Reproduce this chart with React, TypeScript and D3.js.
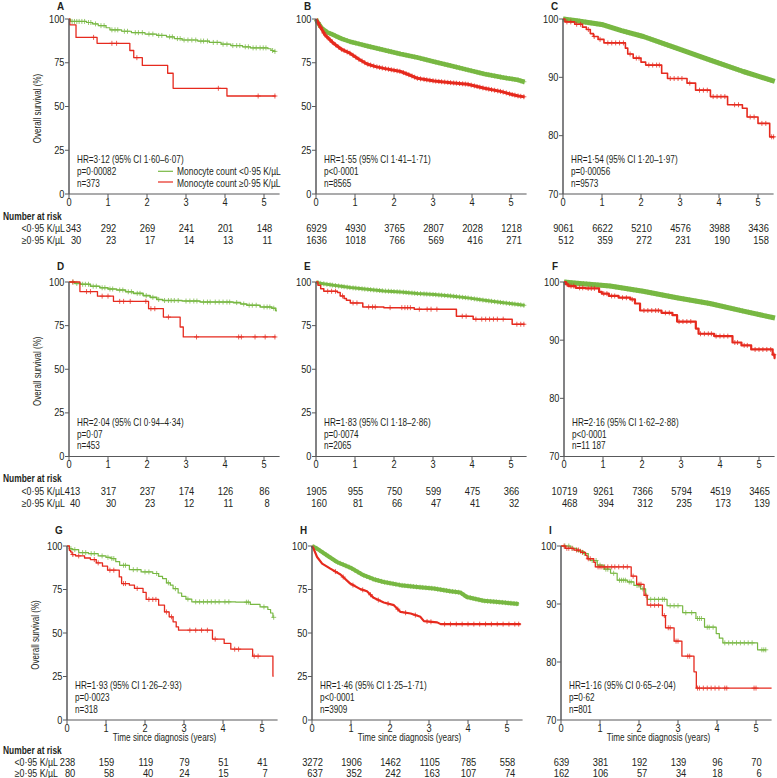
import React from "react";
import * as d3 from "d3";

type Pt = [number, number];

// ---------- text data ----------
const panelLetters = ["A", "B", "C", "D", "E", "F", "G", "H", "I"];
const hrLines = [
  "HR=3·12 (95% CI 1·60–6·07)", "HR=1·55 (95% CI 1·41–1·71)", "HR=1·54 (95% CI 1·20–1·97)",
  "HR=2·04 (95% CI 0·94–4·34)", "HR=1·83 (95% CI 1·18–2·86)", "HR=2·16 (95% CI 1·62–2·88)",
  "HR=1·93 (95% CI 1·26–2·93)", "HR=1·46 (95% CI 1·25–1·71)", "HR=1·16 (95% CI 0·65–2·04)",
];
const pLines = ["p=0·00082", "p<0·0001", "p=0·00056", "p=0·07", "p=0·0074", "p<0·0001", "p=0·0023", "p<0·0001", "p=0·62"];
const nLines = ["n=373", "n=8565", "n=9573", "n=453", "n=2065", "n=11 187", "n=318", "n=3909", "n=801"];

const riskLow: number[][] = [
  [343, 292, 269, 241, 201, 148],
  [6929, 4930, 3765, 2807, 2028, 1218],
  [9061, 6622, 5210, 4576, 3988, 3436],
  [413, 317, 237, 174, 126, 86],
  [1905, 955, 750, 599, 475, 366],
  [10719, 9261, 7366, 5794, 4519, 3465],
  [238, 159, 119, 79, 51, 41],
  [3272, 1906, 1462, 1105, 785, 558],
  [639, 381, 192, 139, 96, 70],
];
const riskHigh: number[][] = [
  [30, 23, 17, 14, 13, 11],
  [1636, 1018, 766, 569, 416, 271],
  [512, 359, 272, 231, 190, 158],
  [40, 30, 23, 12, 11, 8],
  [160, 81, 66, 47, 41, 32],
  [468, 394, 312, 235, 173, 139],
  [80, 58, 40, 24, 15, 7],
  [637, 352, 242, 163, 107, 74],
  [162, 106, 57, 34, 18, 6],
];

const timeTicks = [0, 1, 2, 3, 4, 5];
const yTicksFull = [0, 25, 50, 75, 100];
const yTicksZoom = [70, 80, 90, 100];
const zoomPanels = [false, false, true, false, false, true, false, false, true];

const legendLow = "Monocyte count <0·95 K/µL";
const legendHigh = "Monocyte count ≥0·95 K/µL";
const rowLabelLow = "<0·95 K/µL";
const rowLabelHigh = "≥0·95 K/µL";
const yTitle = "Overall survival (%)";
const xTitle = "Time since diagnosis (years)";
const riskTitle = "Number at risk";

// ---------- survival series (time in years, survival %) ----------
const aGreen: Pt[] = [[0, 100], [0.04, 98.6], [0.45, 98], [0.6, 97.2], [0.75, 96.2], [0.95, 95], [1.05, 93.8], [1.35, 93], [1.6, 92.2], [1.95, 91.4], [2.25, 90.6], [2.5, 89.8], [2.7, 88.8], [2.9, 88], [3.3, 87.4], [3.6, 86.6], [3.9, 85.6], [4.15, 84.8], [4.45, 84.1], [4.65, 83.5], [5.1, 83], [5.18, 82], [5.24, 81.5]];
const aRed: Pt[] = [[0, 100], [0.02, 96.7], [0.18, 89.5], [0.72, 86.1], [1.56, 82], [1.66, 77.9], [1.88, 73.5], [2.53, 69], [2.67, 60.4], [4.05, 56]];
const bGreen: Pt[] = [[0, 100], [0.03, 98.5], [0.15, 94.7], [0.3, 92.3], [0.45, 90.9], [0.65, 88.8], [0.88, 87], [1.1, 85.8], [1.31, 84.6], [1.74, 82.3], [2.17, 80], [2.6, 78], [3.03, 75.6], [3.46, 73.3], [3.89, 70.9], [4.32, 68.6], [4.76, 66.7], [5.19, 65.1], [5.35, 64]];
const bRed: Pt[] = [[0, 100], [0.05, 98], [0.1, 96], [0.23, 90.9], [0.45, 86.1], [0.66, 82.6], [0.88, 80.3], [1.1, 77], [1.31, 74.3], [1.53, 72.8], [1.74, 71.8], [2.17, 70], [2.4, 68], [2.6, 66.1], [3.03, 64.6], [3.46, 63.6], [3.89, 62.7], [4.32, 60.4], [4.76, 58.5], [5.0, 57], [5.19, 56], [5.35, 55.5]];
const cGreen: Pt[] = [[0, 100], [0.35, 99.7], [1.03, 99], [1.5, 98], [2.06, 97], [2.91, 95], [3.76, 93], [4.62, 91], [5.0, 90.2], [5.43, 89.3]];
const cRed: Pt[] = [[0, 100], [0.05, 99.5], [0.3, 99.1], [0.5, 98.6], [0.6, 98.2], [0.7, 97.5], [0.78, 97], [0.9, 96.5], [1.05, 95.9], [1.6, 95], [1.66, 94], [1.8, 93.3], [2.0, 92.6], [2.12, 92.1], [2.53, 90.7], [2.68, 89.8], [3.18, 89], [3.4, 87.8], [3.78, 86.7], [4.22, 85.3], [4.6, 84.7], [4.72, 83.2], [5.0, 82.1], [5.3, 79.8]];
const dGreen: Pt[] = [[0, 100], [0.15, 99.2], [0.3, 98.7], [0.55, 97.6], [0.79, 96.7], [1.0, 96], [1.22, 95.4], [1.45, 94.4], [1.65, 93.5], [1.9, 92.2], [2.08, 91.2], [2.25, 90], [2.4, 89.4], [2.9, 89.1], [3.36, 88.5], [4.21, 88.2], [4.4, 87.4], [4.56, 86.7], [4.9, 85.7], [5.2, 85], [5.3, 83.6]];
const dRed: Pt[] = [[0, 100], [0.28, 94.5], [0.73, 91.9], [1.14, 88.9], [2.04, 84.7], [2.42, 79.9], [2.85, 74.2], [2.93, 68.5]];
const eGreen: Pt[] = [[0, 100], [0.1, 99.3], [0.45, 98.1], [0.88, 96.8], [1.31, 95.8], [1.74, 94.9], [2.17, 94.3], [2.6, 93.4], [3.03, 92.8], [3.46, 92], [3.89, 90.9], [4.32, 89.5], [4.76, 88.2], [5.19, 87.1], [5.35, 86.6]];
const eRed: Pt[] = [[0, 100], [0.05, 98.1], [0.12, 96.2], [0.2, 94.7], [0.55, 94], [0.62, 92], [0.72, 90.5], [0.78, 89.5], [0.88, 88], [1.2, 85.7], [1.74, 85.3], [2.52, 84.4], [3.6, 80.4], [4.03, 78.7], [5.03, 75.8]];
const fGreen: Pt[] = [[0, 100], [0.33, 99.8], [1.18, 99.3], [2.03, 98.4], [2.89, 97.3], [3.74, 96.3], [4.6, 95], [5.41, 93.8]];
const fRed: Pt[] = [[0, 100], [0.05, 99.6], [0.11, 99.3], [0.3, 99], [0.55, 98.9], [0.9, 98.3], [0.97, 98], [1.15, 97.6], [1.4, 97.3], [1.7, 97], [1.82, 96.3], [1.95, 95.1], [2.5, 94.7], [2.78, 94.3], [2.9, 93.2], [3.38, 92], [3.45, 91.1], [3.85, 90.7], [4.32, 89.6], [4.55, 89.1], [4.8, 88.4], [5.35, 87.5], [5.4, 86.9]];
const gGreen: Pt[] = [[0, 100], [0.06, 98.5], [0.13, 97.9], [0.3, 96.2], [0.55, 95.6], [0.8, 94.3], [1.0, 93.5], [1.13, 92.8], [1.25, 91], [1.35, 88.9], [1.6, 86.4], [1.9, 85.1], [2.2, 84.2], [2.35, 82.5], [2.45, 81.3], [2.55, 78.8], [2.65, 77.5], [2.72, 75.5], [2.85, 73], [2.94, 71.1], [3.05, 69.5], [3.2, 67.9], [4.33, 67.7], [4.7, 66.4], [4.95, 65], [5.15, 63.5], [5.22, 61.5], [5.28, 59]];
const gRed: Pt[] = [[0, 100], [0.06, 97.5], [0.09, 96.6], [0.13, 95.1], [0.22, 94.3], [0.45, 93.1], [0.6, 92.2], [0.75, 90.3], [0.91, 88.4], [1.04, 86.1], [1.34, 82.2], [1.4, 78.4], [1.6, 77.5], [1.73, 75.6], [1.95, 73.3], [2.03, 69.3], [2.35, 66], [2.5, 62.1], [2.62, 59.3], [2.72, 56.4], [2.8, 53.5], [2.86, 51.6], [3.73, 46.5], [4.03, 44], [4.2, 40.7], [4.76, 36.7], [5.28, 25.2]];
const hGreen: Pt[] = [[0, 100], [0.13, 98.5], [0.38, 94.7], [0.64, 90.8], [0.98, 87.6], [1.32, 83.2], [1.58, 80.9], [1.84, 79.3], [2.27, 77.5], [2.69, 76.5], [3.12, 75.6], [3.55, 74], [3.8, 73.3], [3.97, 70.7], [4.4, 68.5], [4.91, 67.5], [5.3, 66.7]];
const hRed: Pt[] = [[0, 100], [0.04, 98.5], [0.13, 93.7], [0.26, 89.9], [0.47, 87], [0.73, 83.6], [0.98, 78.4], [1.24, 75.2], [1.41, 74], [1.58, 70.2], [1.84, 67.5], [2.1, 66], [2.27, 62.1], [2.53, 61.2], [2.78, 59.3], [2.87, 56.8], [3.21, 56.1], [3.3, 55.1], [5.35, 55.1]];
const iGreen: Pt[] = [[0, 100], [0.24, 99.6], [0.41, 99.1], [0.58, 98.7], [0.7, 97.8], [0.75, 97.5], [0.93, 96.7], [1.1, 96], [1.27, 95.3], [1.44, 94.1], [1.7, 93.8], [1.87, 93.2], [2.04, 92.6], [2.17, 91.5], [2.21, 90.8], [2.72, 89.7], [3.12, 88.5], [3.46, 87.5], [3.68, 86], [3.98, 84.9], [4.06, 84.1], [4.15, 83.3], [5.04, 82.1]];
const iRed: Pt[] = [[0, 100], [0.11, 99.6], [0.33, 99.3], [0.5, 98.9], [0.63, 98.4], [0.67, 97.8], [0.84, 97.2], [0.88, 96.4], [1.8, 94.8], [1.94, 93.4], [2.13, 91.5], [2.21, 89.8], [2.6, 88], [2.68, 85.9], [2.9, 83.6], [3.1, 81], [3.41, 78.3], [3.47, 75.5]];

const greenSeries = [aGreen, bGreen, cGreen, dGreen, eGreen, fGreen, gGreen, hGreen, iGreen];
const redSeries = [aRed, bRed, cRed, dRed, eRed, fRed, gRed, hRed, iRed];
const greenEnd = [5.3, 5.35, 5.43, 5.33, 5.35, 5.41, 5.3, 5.3, 5.26];
const redEnd = [5.3, 5.35, 5.42, 5.3, 5.35, 5.42, 5.3, 5.35, 5.4];
const greenSmooth = [false, true, true, false, true, true, false, true, false];
const redSmooth = [false, true, false, false, false, false, false, true, false];

// censoring marks (years)
const denseCensor = [0.05, 0.12, 0.2, 0.28, 0.36, 0.42, 0.5, 0.58, 0.66, 0.72, 0.8, 0.87, 0.95, 1.02, 1.1, 1.18, 1.25, 1.33, 1.4, 1.48, 1.56, 1.63, 1.7, 1.78, 1.86, 1.93, 2.0, 2.08, 2.15, 2.24, 2.31, 2.38, 2.46, 2.53, 2.6, 2.68, 2.77, 2.84, 2.92, 3.0, 3.07, 3.15, 3.22, 3.3, 3.38, 3.45, 3.53, 3.6, 3.68, 3.76, 3.83, 3.9, 3.98, 4.06, 4.13, 4.2, 4.28, 4.36, 4.43, 4.5, 4.58, 4.66, 4.73, 4.8, 4.88, 4.96, 5.03, 5.1, 5.18, 5.25, 5.33];
const aGreenCensor = [0.08, 0.14, 0.2, 0.26, 0.33, 0.4, 0.5, 0.56, 0.68, 0.82, 0.9, 1.1, 1.18, 1.25, 1.42, 1.5, 1.7, 1.78, 1.88, 2.05, 2.15, 2.3, 2.38, 2.58, 2.65, 2.78, 2.85, 2.95, 3.05, 3.15, 3.25, 3.38, 3.45, 3.55, 3.7, 3.8, 3.95, 4.05, 4.2, 4.3, 4.38, 4.52, 4.6, 4.72, 4.8, 4.9, 4.98, 5.05, 5.22, 5.28];
const aRedCensor = [0.63, 1.1, 1.22, 1.74, 3.83, 4.85, 5.28];
const cRedCensor = [0.1, 0.2, 0.35, 0.45, 0.65, 0.8, 0.95, 1.15, 1.25, 1.35, 1.45, 1.55, 1.72, 1.88, 1.95, 2.2, 2.3, 2.4, 2.47, 2.75, 2.85, 2.95, 3.05, 3.25, 3.5, 3.6, 3.7, 3.85, 3.95, 4.05, 4.15, 4.4, 4.5, 4.8, 4.9, 5.1, 5.2, 5.35, 5.4];
const dGreenCensor = [0.1, 0.2, 0.35, 0.42, 0.5, 0.62, 0.7, 0.85, 0.92, 1.05, 1.12, 1.3, 1.38, 1.52, 1.6, 1.75, 1.82, 1.98, 2.15, 2.3, 2.45, 2.55, 2.62, 2.7, 2.8, 3.0, 3.1, 3.2, 3.28, 3.45, 3.55, 3.62, 3.75, 3.85, 3.95, 4.05, 4.12, 4.3, 4.48, 4.62, 4.7, 4.8, 5.0, 5.08, 5.15, 5.25];
const dRedCensor = [0.1, 0.45, 0.55, 0.85, 1.0, 1.3, 1.4, 1.57, 1.97, 2.1, 2.2, 2.55, 3.27, 4.35, 4.42, 4.77, 5.03, 5.28];
const eRedCensor = [0.3, 0.4, 0.5, 0.68, 0.95, 1.05, 1.35, 1.45, 1.52, 1.9, 2.2, 2.28, 2.35, 2.42, 2.65, 2.85, 2.95, 3.1, 3.75, 3.85, 4.1, 4.25, 4.35, 4.45, 4.55, 4.65, 4.8, 5.15, 5.25, 5.33];
const fRedCensor = [0.08, 0.18, 0.25, 0.4, 0.48, 0.62, 0.7, 0.78, 1.02, 1.1, 1.22, 1.3, 1.5, 1.6, 1.75, 2.05, 2.15, 2.25, 2.35, 2.42, 2.6, 2.7, 2.95, 3.05, 3.15, 3.25, 3.5, 3.6, 3.7, 3.78, 3.9, 4.0, 4.1, 4.2, 4.38, 4.45, 4.62, 4.7, 4.9, 5.0, 5.1, 5.2, 5.3, 5.38];
const gGreenCensor = [0.1, 0.2, 0.4, 0.48, 0.62, 0.7, 0.9, 1.05, 1.15, 1.2, 1.45, 1.5, 1.7, 1.8, 2.0, 2.1, 2.3, 2.6, 2.78, 3.1, 3.3, 3.4, 3.5, 3.6, 3.7, 3.8, 3.9, 4.05, 4.15, 4.6, 4.65, 5.05, 5.3];
const gRedCensor = [0.15, 0.3, 0.7, 0.8, 1.1, 1.2, 1.45, 1.5, 1.8, 2.1, 2.2, 2.28, 2.55, 2.68, 3.15, 3.3, 3.45, 3.6, 3.8, 4.3, 4.4, 4.8, 4.9];
const hRedCensor = [0.6, 0.8, 1.05, 1.3, 1.5, 1.7, 1.95, 2.2, 2.4, 2.65, 2.95, 3.05, 3.4, 3.55, 3.7, 3.85, 4.0, 4.15, 4.3, 4.45, 4.6, 4.75, 4.9, 5.05, 5.2, 5.3];
const iGreenCensor = [0.1, 0.2, 0.3, 0.5, 0.6, 0.8, 0.9, 1.0, 1.15, 1.2, 1.35, 1.5, 1.55, 1.6, 1.65, 1.75, 1.8, 1.95, 2.0, 2.1, 2.3, 2.4, 2.5, 2.6, 2.65, 2.8, 2.9, 3.0, 3.2, 3.35, 3.5, 3.55, 3.6, 3.75, 3.8, 3.9, 4.2, 4.3, 4.4, 4.5, 4.6, 4.7, 4.8, 4.9, 5.15, 5.2, 5.25];
const iRedCensor = [0.08, 0.15, 0.2, 0.28, 0.4, 0.45, 0.55, 0.7, 0.75, 0.95, 1.0, 1.05, 1.12, 1.2, 1.3, 1.38, 1.48, 1.6, 1.7, 1.85, 2.0, 2.05, 2.18, 2.3, 2.4, 2.5, 2.65, 2.75, 2.8, 2.95, 3.0, 3.25, 3.3, 3.5, 3.55, 3.65, 3.75, 3.85, 3.95, 4.05, 4.2, 4.25, 4.95, 5.0];

const greenCensor = [aGreenCensor, denseCensor, denseCensor, dGreenCensor, denseCensor, denseCensor, gGreenCensor, denseCensor, iGreenCensor];
const redCensor = [aRedCensor, denseCensor, cRedCensor, dRedCensor, eRedCensor, fRedCensor, gRedCensor, hRedCensor, iRedCensor];

// ---------- layout / style ----------
const W = 777, H = 778;
const axisX = [69, 316, 563, 69, 316, 564, 67, 312, 561];
const rowTop = [19, 282, 546];
const rowBottom = [194, 456.5, 720];
const letterBaseline = [10, 270, 534];
const rowLabelGap = [4, 4, 9];
const pxPerYear = 39;
const tMax = 5.4;
const green = "#78b843";
const red = "#e62a1e";
const axisColor = "#58595b";
const textColor = "#231f20";
const FONT = "'Liberation Sans',Arial,sans-serif";
const greenWidth = [1.2, 4.5, 5, 1.6, 3, 5, 1.2, 4, 1.2];
const redWidth = [1.3, 3, 1.6, 1.3, 1.5, 2.2, 1.3, 2.2, 1.3];
const firstColShift = [4, 0, 0, 3, 0, 0, 0, 0, 0];

function T({ x, y, size, sx, anchor, weight, rotate, children }: any) {
  const tr = `translate(${x},${y})${rotate ? ` rotate(${rotate})` : ""} scale(${sx},1)`;
  return (
    <text
      transform={tr}
      textAnchor={anchor || "start"}
      fontFamily={FONT}
      fontSize={size}
      fontWeight={weight || "normal"}
      fill={textColor}
    >
      {children}
    </text>
  );
}

function valueAt(pts: Pt[], t: number, smooth: boolean): number {
  if (!smooth) {
    let v = pts[0][1];
    for (const p of pts) if (p[0] <= t) v = p[1];
    return v;
  }
  for (let i = 1; i < pts.length; i++) {
    if (t <= pts[i][0]) {
      const [t0, v0] = pts[i - 1];
      const [t1, v1] = pts[i];
      return v0 + ((v1 - v0) * (t - t0)) / (t1 - t0 || 1);
    }
  }
  return pts[pts.length - 1][1];
}

function Curve({ pts, end, smooth, censor, color, width, x, y }: any) {
  const data: Pt[] = [...pts, [end, pts[pts.length - 1][1]]];
  const line = d3
    .line<Pt>()
    .x((d) => x(d[0]))
    .y((d) => y(d[1]))
    .curve(smooth ? d3.curveLinear : d3.curveStepAfter);
  const marks = (censor as number[]).filter((t) => t <= end);
  return (
    <g>
      <path d={line(data) || ""} fill="none" stroke={color} strokeWidth={width} strokeLinejoin="round" />
      {marks.map((t, i) => {
        const cx = x(t);
        const cy = y(valueAt(data, t, smooth));
        return (
          <path
            key={i}
            d={`M${cx - 2.5},${cy}H${cx + 2.5}M${cx},${cy - 2.5}V${cy + 2.5}`}
            stroke={color}
            strokeWidth={1}
            opacity={0.75}
          />
        );
      })}
    </g>
  );
}

function Panel({ idx }: { idx: number }) {
  const row = Math.floor(idx / 3);
  const col = idx % 3;
  const x0 = axisX[idx];
  const top = rowTop[row];
  const bottom = rowBottom[row];
  const zoom = zoomPanels[idx];
  const x = d3.scaleLinear().domain([0, tMax]).range([x0, x0 + tMax * pxPerYear]);
  const y = d3.scaleLinear().domain(zoom ? [70, 100] : [0, 100]).range([bottom, top]);
  const yt = zoom ? yTicksZoom : yTicksFull;
  const last = row === 2;
  const tickLabelY = bottom + 11.5;
  const riskHead = bottom + (last ? 33.5 : 25.5);
  const riskRow1 = bottom + (last ? 45.5 : 38);
  const riskRow2 = bottom + (last ? 56.5 : 50);
  return (
    <g>
      <T x={x0 - 12} y={letterBaseline[row]} size={11} sx={0.9} weight="bold">{panelLetters[idx]}</T>
      <Curve pts={greenSeries[idx]} end={greenEnd[idx]} smooth={greenSmooth[idx]} censor={greenCensor[idx]} color={green} width={greenWidth[idx]} x={x} y={y} />
      <Curve pts={redSeries[idx]} end={redEnd[idx]} smooth={redSmooth[idx]} censor={redCensor[idx]} color={red} width={redWidth[idx]} x={x} y={y} />
      <line x1={x0} x2={x0} y1={top} y2={bottom} stroke={axisColor} strokeWidth={1.5} />
      <line x1={x0} x2={x(tMax)} y1={bottom} y2={bottom} stroke={axisColor} strokeWidth={1.2} />
      {yt.map((v) => (
        <g key={v}>
          <line x1={x0 - 4} x2={x0} y1={y(v)} y2={y(v)} stroke={axisColor} strokeWidth={1} />
          <T x={x0 - 4.5} y={y(v) + 3.6} size={10.5} sx={0.88} anchor="end">{v}</T>
        </g>
      ))}
      {timeTicks.map((t) => (
        <g key={t}>
          <line x1={x(t)} x2={x(t)} y1={bottom} y2={bottom + 4} stroke={axisColor} strokeWidth={1} />
          <T x={x(t)} y={tickLabelY} size={10.5} sx={0.88} anchor="middle">{t}</T>
        </g>
      ))}
      <T x={x0 + 8} y={bottom - 31} size={10.2} sx={0.8}>{hrLines[idx]}</T>
      <T x={x0 + 8} y={bottom - 19} size={10.2} sx={0.8}>{pLines[idx]}</T>
      <T x={x0 + 8} y={bottom - 7.5} size={10.2} sx={0.8}>{nLines[idx]}</T>
      {idx === 0 && (
        <g>
          <line x1={x0 + 89} x2={x0 + 104} y1={bottom - 22.7} y2={bottom - 22.7} stroke={green} strokeWidth={1.2} />
          <line x1={x0 + 89} x2={x0 + 104} y1={bottom - 12} y2={bottom - 12} stroke={red} strokeWidth={1.2} />
          <T x={x0 + 108} y={bottom - 19} size={10.2} sx={0.83}>{legendLow}</T>
          <T x={x0 + 108} y={bottom - 7.5} size={10.2} sx={0.83}>{legendHigh}</T>
        </g>
      )}
      {col === 0 && (
        <T x={x0 - 28} y={(top + bottom) / 2 + 2} size={10} sx={0.8} anchor="middle" rotate={-90}>{yTitle}</T>
      )}
      {last && (
        <T x={x(2.5)} y={bottom + 21} size={10.2} sx={0.8} anchor="middle">{xTitle}</T>
      )}
      {col === 0 && (
        <g>
          <T x={3} y={riskHead} size={10.5} sx={0.8} weight="bold">{riskTitle}</T>
          <T x={x0 - rowLabelGap[row]} y={riskRow1} size={10.5} sx={0.84} anchor="end">{rowLabelLow}</T>
          <T x={x0 - rowLabelGap[row]} y={riskRow2} size={10.5} sx={0.84} anchor="end">{rowLabelHigh}</T>
        </g>
      )}
      {timeTicks.map((t, i) => {
        const half = String(riskLow[idx][i]).length * 2.6 + 0.5;
        const rx = x(t) + half + (i === 0 ? firstColShift[idx] : 0);
        return (
          <g key={t}>
            <T x={rx} y={riskRow1} size={11} sx={0.85} anchor="end">{riskLow[idx][i]}</T>
            <T x={rx} y={riskRow2} size={11} sx={0.85} anchor="end">{riskHigh[idx][i]}</T>
          </g>
        );
      })}
    </g>
  );
}

export default function App() {
  return (
    <div style={{ position: "absolute", left: 0, top: 0, width: W, height: H, background: "#fff" }}>
      <svg width={W} height={H} viewBox={`0 0 ${W} ${H}`}>
        <rect width={W} height={H} fill="#fff" />
        {panelLetters.map((_, i) => (
          <Panel key={i} idx={i} />
        ))}
      </svg>
    </div>
  );
}
